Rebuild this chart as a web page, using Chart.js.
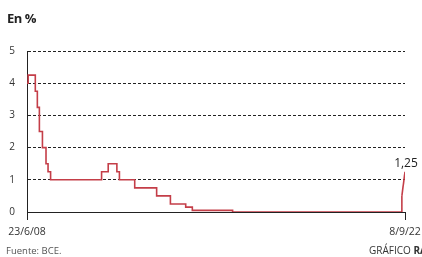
<!DOCTYPE html>
<html>
<head>
<meta charset="utf-8">
<script src="https://cdn.jsdelivr.net/npm/chart.js@4.4.1/dist/chart.umd.min.js"></script>
<style>
  html, body { margin: 0; padding: 0; background: #fff; }
  #wrap { position: relative; width: 422px; height: 257px; overflow: hidden; }
  #c { position: absolute; left: 0; top: 0; }
  .t { position: absolute; font-family: "Open Sans", sans-serif; white-space: nowrap; }
  #title { left: 7px; top: 9px; font-size: 13px; font-weight: 700; color: #222; letter-spacing: -0.5px; }
  #src { left: 6px; top: 244px; font-size: 9.5px; color: #555; }
  #credit { left: 369px; top: 243px; font-size: 10px; color: #333; }
</style>
</head>
<body>
<div id="wrap">
  <canvas id="c" width="422" height="257"></canvas>
  <div class="t" id="title">En %</div>
  <div class="t" id="src">Fuente: BCE.</div>
  <div class="t" id="credit">GRÁFICO <b>RA</b></div>
</div>
<script>
// ---- data (ECB main refinancing rate, %) ----
const changeDates = ['2008-06-23','2008-07-09','2008-10-15','2008-11-12','2008-12-10','2009-01-21','2009-03-11','2009-04-08','2009-05-13','2011-04-13','2011-07-13','2011-11-09','2011-12-14','2012-07-11','2013-05-08','2013-11-13','2014-06-11','2014-09-10','2016-03-16','2022-07-27'];
const rates = [4.0,4.25,3.75,3.25,2.5,2.0,1.5,1.25,1.0,1.25,1.5,1.25,1.0,0.75,0.5,0.25,0.15,0.05,0,0.5];
const lastDates = ['2022-07-27','2022-09-08'];
const lastRates = [0.5,1.25];
const axisStart = '2008-06-23';
const axisEnd = '2022-09-08';
const xTickLabels = ['23/6/08','8/9/22'];
const yTicks = [0,1,2,3,4,5];
const endLabel = '1,25';

const ts = s => Date.parse(s + 'T00:00:00Z');
const mainPts = changeDates.map((d,i) => ({x: ts(d), y: rates[i]}));
const lastPts = lastDates.map((d,i) => ({x: ts(d), y: lastRates[i]}));
const RED = 'rgb(196,62,72)';
const INK = '#222';

const labelsPlugin = {
  id: 'labelsPlugin',
  afterDraw(chart) {
    const ctx = chart.ctx;
    const xs = chart.scales.x, ys = chart.scales.y;
    ctx.save();
    ctx.fillStyle = '#333';
    ctx.font = '10.5px "Open Sans", sans-serif';
    ctx.textAlign = 'center';
    ctx.textBaseline = 'middle';
    [axisStart, axisEnd].forEach((d,i) => {
      ctx.fillText(xTickLabels[i], xs.getPixelForValue(ts(d)), ys.bottom + 20);
    });
    const lp = lastPts[lastPts.length-1];
    ctx.fillStyle = INK;
    ctx.font = '12px "Open Sans", sans-serif';
    ctx.textBaseline = 'bottom';
    ctx.fillText(endLabel, xs.getPixelForValue(lp.x) + 1, ys.getPixelForValue(lp.y) - 2);
    ctx.restore();
  }
};

new Chart(document.getElementById('c'), {
  type: 'line',
  data: {
    datasets: [
      { data: mainPts, stepped: 'before', borderColor: RED, borderWidth: 1.6, pointRadius: 0, fill: false, tension: 0 },
      { data: lastPts, borderColor: RED, borderWidth: 1.6, pointRadius: 0, fill: false, tension: 0 }
    ]
  },
  options: {
    responsive: false,
    animation: false,
    devicePixelRatio: 1,
    layout: { padding: { top: 51, right: 17, bottom: 0, left: 0 } },
    plugins: { legend: { display: false }, tooltip: { enabled: false } },
    scales: {
      x: {
        type: 'linear',
        min: ts(axisStart),
        max: ts(axisEnd),
        afterBuildTicks: s => { s.ticks = [{value: ts(axisStart)}, {value: ts(axisEnd)}]; },
        afterFit: s => { s.height = 45; },
        ticks: { display: false },
        grid: { display: true, drawOnChartArea: false, drawTicks: true, tickLength: 8, color: INK, lineWidth: 1 },
        border: { display: true, color: INK, width: 1 }
      },
      y: {
        min: 0, max: 5,
        afterBuildTicks: s => { s.ticks = yTicks.map(v => ({value: v})); },
        afterFit: s => { s.width = 27; },
        ticks: { color: '#333', font: { family: '"Open Sans", sans-serif', size: 10 }, padding: 12 },
        grid: { drawTicks: false, lineWidth: 1, color: c => (c.tick && c.tick.value === 0) ? 'rgba(0,0,0,0)' : INK },
        border: { display: true, color: INK, width: 1, dash: [3,2] }
      }
    }
  },
  plugins: [labelsPlugin]
});
</script>
</body>
</html>
